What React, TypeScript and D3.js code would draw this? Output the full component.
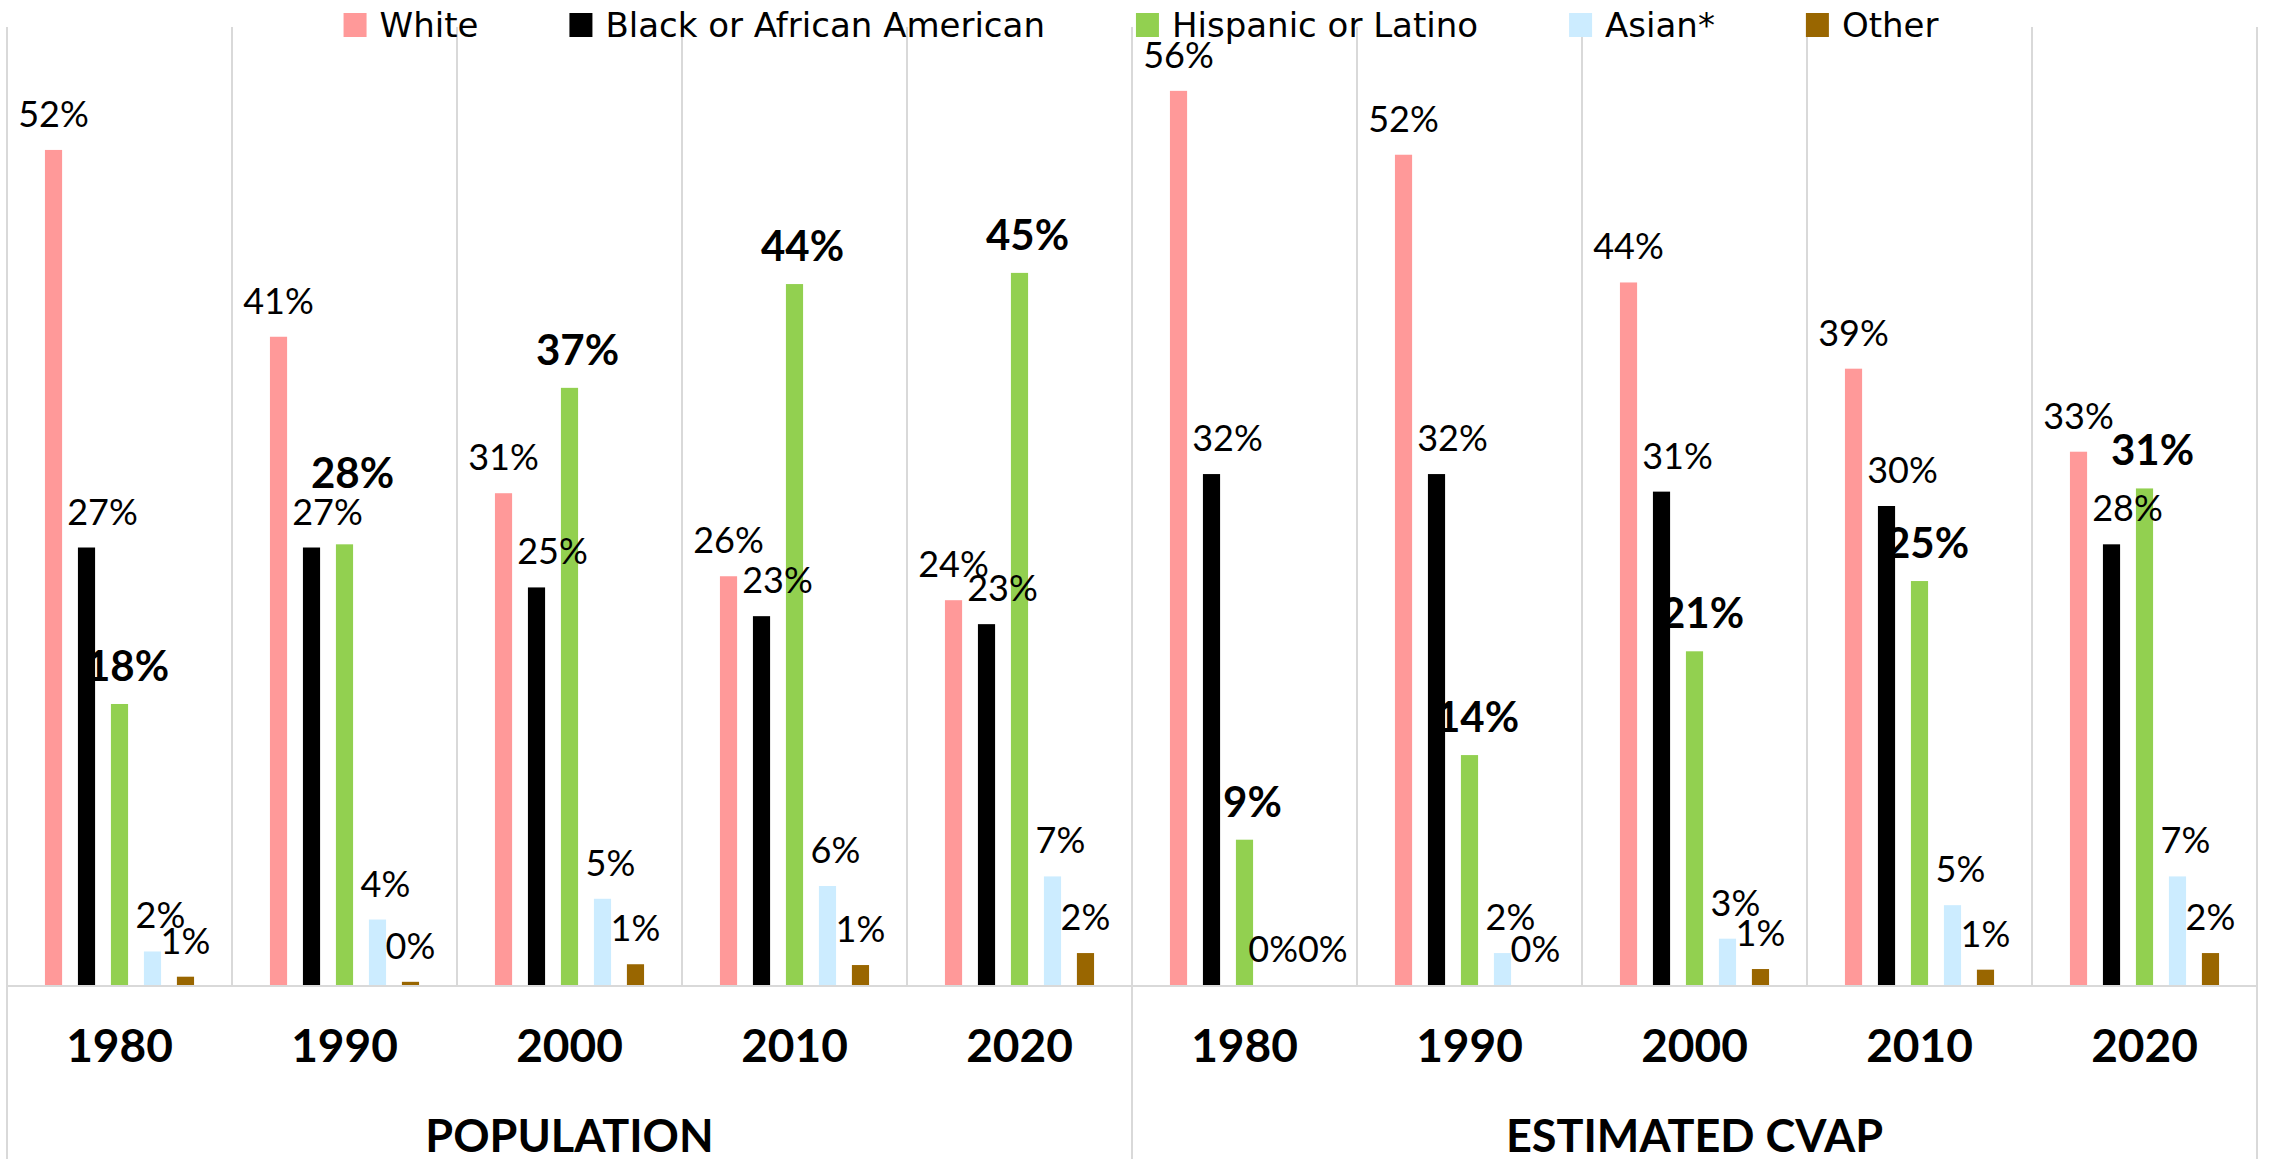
import React, { useRef, useEffect } from "react"
import * as d3 from "d3"

// categories
const years = ["1980", "1990", "2000", "2010", "2020"]
const sections = ["POPULATION", "ESTIMATED CVAP"]
const seriesNames = ["White", "Black or African American", "Hispanic or Latino", "Asian*", "Other"]
const seriesColours = ["#FF9999", "#000000", "#92D050", "#CCECFF", "#996600"]

// shares in percent
const popWhite = [52.3, 40.6, 30.8, 25.6, 24.1]
const popBlack = [27.4, 27.4, 24.9, 23.1, 22.6]
const popHispanic = [17.6, 27.6, 37.4, 43.9, 44.6]
const popAsian = [2.1, 4.1, 5.4, 6.2, 6.8]
const popOther = [0.52, 0.2, 1.3, 1.25, 2.0]

const cvapWhite = [56.0, 52.0, 44.0, 38.6, 33.4]
const cvapBlack = [32.0, 32.0, 30.9, 30.0, 27.6]
const cvapHispanic = [9.1, 14.4, 20.9, 25.3, 31.1]
const cvapAsian = [0, 2.0, 2.9, 5.0, 6.8]
const cvapOther = [0, 0, 1.0, 0.96, 2.0]

const sectionValues = [
  [popWhite, popBlack, popHispanic, popAsian, popOther],
  [cvapWhite, cvapBlack, cvapHispanic, cvapAsian, cvapOther],
]

const W = 2277
const H = 1159
const labelFont = "Lato, 'DejaVu Sans', sans-serif"
const legendFont = "'DejaVu Sans', sans-serif"
const gridColour = "#d9d9d9"

const App = () => {
  const d3Container = useRef(null)

  useEffect(() => {
    if (!d3Container.current) return
    document.body.style.margin = "0"
    document.body.style.overflow = "hidden"

    const margin = { top: 27, right: 20, bottom: 174, left: 7 }
    const baseY = H - margin.bottom
    const svg = d3.select(d3Container.current)
    svg.selectAll("*").remove()

    const cats = sections.flatMap(s => years.map(y => s + "|" + y))
    const x0 = d3.scaleBand().domain(cats).range([margin.left, W - margin.right])
    const x1 = d3
      .scaleBand()
      .domain(seriesNames)
      .range([0, x0.bandwidth()])
      .paddingInner(0.48)
      .paddingOuter(1.15)
    const y = d3.scaleLinear().domain([0, 60]).range([baseY, margin.top])

    // grid: band boundaries
    const bounds = cats.map(c => x0(c)).concat([x0.range()[1]])
    svg
      .append("g")
      .selectAll("line")
      .data(bounds)
      .enter()
      .append("line")
      .attr("x1", d => d)
      .attr("x2", d => d)
      .attr("y1", margin.top)
      .attr("y2", (d, i) => (i % years.length === 0 ? H : baseY))
      .attr("stroke", gridColour)
      .attr("stroke-width", 2)

    svg
      .append("line")
      .attr("x1", margin.left)
      .attr("x2", W - margin.right)
      .attr("y1", baseY + 1)
      .attr("y2", baseY + 1)
      .attr("stroke", gridColour)
      .attr("stroke-width", 2)

    // bars + labels
    const seriesDx = [0, 16, 8, 8, 0]
    const rows = []
    sections.forEach((s, si) => {
      years.forEach((yr, yi) => {
        seriesNames.forEach((name, k) => {
          rows.push({ cat: s + "|" + yr, k, name, v: sectionValues[si][k][yi] })
        })
      })
    })

    svg
      .append("g")
      .selectAll("rect")
      .data(rows)
      .enter()
      .append("rect")
      .attr("x", d => x0(d.cat) + x1(d.name))
      .attr("y", d => y(d.v))
      .attr("width", x1.bandwidth())
      .attr("height", d => baseY - y(d.v))
      .attr("fill", d => seriesColours[d.k])

    const labels = rows.map(d => ({
      ...d,
      lx: x0(d.cat) + x1(d.name) + x1.bandwidth() / 2 + seriesDx[d.k],
      ly: y(d.v) - 23,
    }))
    // lift the bold hispanic label when it collides with the black one
    cats.forEach(c => {
      const blk = labels.find(l => l.cat === c && l.k === 1)
      const his = labels.find(l => l.cat === c && l.k === 2)
      if (Math.abs(blk.ly - his.ly) < 34 && Math.abs(blk.lx - his.lx) < 78) {
        his.ly = blk.ly - 37
      }
    })

    const labelSel = svg
      .append("g")
      .selectAll("text")
      .data(labels)
      .enter()
      .append("text")
      .attr("x", d => d.lx)
      .attr("y", d => d.ly)
      .attr("text-anchor", "middle")
      .style("font-family", labelFont)
      .style("font-size", d => (d.k === 2 ? "42px" : "36px"))
      .style("font-weight", d => (d.k === 2 ? "bold" : "normal"))
      .text(d => Math.round(d.v) + "%")

    // labels sitting on the same line are spread so they just touch
    labelSel.each(function (d) {
      d.w = this.getComputedTextLength()
    })
    cats.forEach(c => {
      const g = labels.filter(l => l.cat === c)
      for (let i = 1; i < g.length; i++) {
        const a = g[i - 1]
        const b = g[i]
        const gap = b.lx - a.lx - (a.w + b.w) / 2
        if (Math.abs(a.ly - b.ly) < 4 && gap < 0) {
          a.lx += gap / 2
          b.lx -= gap / 2
        }
      }
    })
    labelSel.attr("x", d => d.lx)

    // category axis
    svg
      .append("g")
      .selectAll("text")
      .data(cats)
      .enter()
      .append("text")
      .attr("x", d => x0(d) + x0.bandwidth() / 2)
      .attr("y", 1062)
      .attr("text-anchor", "middle")
      .style("font-family", labelFont)
      .style("font-size", "46px")
      .style("font-weight", "bold")
      .text(d => d.split("|")[1])

    svg
      .append("g")
      .selectAll("text")
      .data(sections)
      .enter()
      .append("text")
      .attr("x", d => {
        const a = x0(d + "|" + years[0])
        const b = x0(d + "|" + years[years.length - 1]) + x0.bandwidth()
        return (a + b) / 2
      })
      .attr("y", 1152)
      .attr("text-anchor", "middle")
      .style("font-family", labelFont)
      .style("font-size", "45px")
      .style("font-weight", "bold")
      .text(d => d)

    // legend
    const legend = svg.append("g")
    const items = legend
      .selectAll("g")
      .data(seriesNames)
      .enter()
      .append("g")
    items
      .append("rect")
      .attr("width", 23)
      .attr("height", 24)
      .attr("y", 13)
      .attr("fill", (d, i) => seriesColours[i])
    items
      .append("text")
      .attr("x", 36)
      .attr("y", 37)
      .style("font-family", legendFont)
      .style("font-size", "34px")
      .text(d => d)
    let cursor = 0
    const offsets = []
    items.each(function () {
      offsets.push(cursor)
      const tw = d3.select(this).select("text").node().getComputedTextLength()
      cursor += 36 + tw + 91
    })
    const total = cursor - 91
    const start = 1141 - total / 2
    items.attr("transform", (d, i) => `translate(${start + offsets[i]}, 0)`)
  }, [d3Container])

  return (
    <svg
      ref={d3Container}
      width={W}
      height={H}
      style={{ position: "absolute", left: 0, top: 0, background: "#fff" }}
    />
  )
}

export default App
